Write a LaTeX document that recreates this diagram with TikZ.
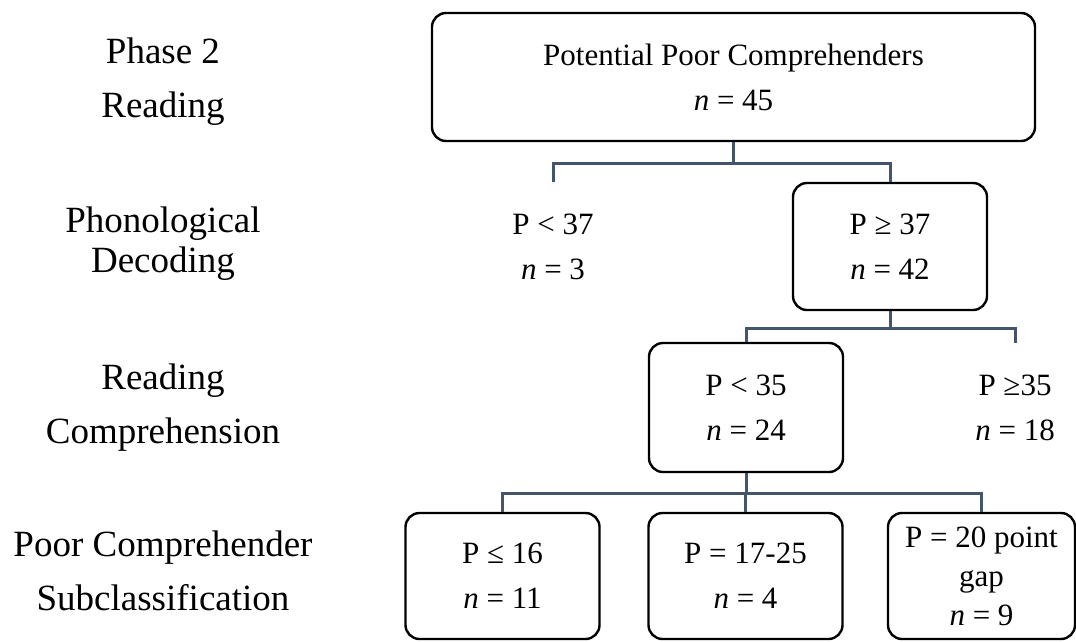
\documentclass[tikz,border=0pt]{standalone}
\usepackage{fontspec}
\setmainfont{Liberation Serif}
\definecolor{linkgray}{HTML}{44546A}
\usetikzlibrary{positioning}

\begin{document}
\begin{tikzpicture}[x=1pt,y=-1pt,
  every node/.style={align=center,inner sep=0pt,font=\fontsize{31}{45}\selectfont},
  box/.style={draw,line width=2.4pt,rounded corners=14pt,minimum width=194pt,minimum height=128pt},
  leaf/.style={minimum width=194pt,minimum height=128pt},
  tight/.style={font=\fontsize{31}{39}\selectfont},
  stage/.style={font=\fontsize{37}{54}\selectfont},
  link/.style={draw=linkgray,line width=3pt}]
\useasboundingbox (0,0) rectangle (1076,641);
\node[stage] (phase) at (163,81.5) {Phase 2\\Reading};
\node[stage] (decode) at (163,243.5) {Phonological\\[-14pt]Decoding};
\node[stage] (compr) at (163,407.5) {Reading\\Comprehension};
\node[stage] (subcl) at (163,571) {Poor Comprehender\\Subclassification};
\node[box,minimum width=603pt] (top) at (733.5,77) {Potential Poor Comprehenders\\\textit{n} = 45};
\node[leaf] (lo37) at (553,246.5) {P < 37\\\textit{n} = 3};
\node[box,minimum height=127pt] (hi37) at (890,246.5) {P ≥ 37\\\textit{n} = 42};
\node[box,minimum height=129pt] (lo35) at (746,407.5) {P < 35\\\textit{n} = 24};
\node[leaf,minimum height=129pt] (hi35) at (1015,407.5) {P ≥35\\\textit{n} = 18};
\node[box,minimum height=126pt] (sub16) at (502.5,576) {P ≤ 16\\\textit{n} = 11};
\node[box,minimum height=126pt] (sub25) at (745.5,576) {P = 17-25\\\textit{n} = 4};
\node[box,tight,minimum width=187pt,minimum height=126pt] (subgap) at (981.5,576) {P = 20 point\\gap\\\textit{n} = 9};
\draw[link] (top.south) -- ++(0,21) coordinate (fork1) -| (lo37.north) (fork1) -| (hi37.north);
\draw[link] (hi37.south) -- ++(0,17) coordinate (fork2) -| (lo35.north) (fork2) -| (hi35.north);
\draw[link] (lo35.south) -- ++(0,20) coordinate (fork3) -| (sub16.north) (fork3) -| (sub25.north) (fork3) -| (subgap.north);
\end{tikzpicture}
\end{document}
